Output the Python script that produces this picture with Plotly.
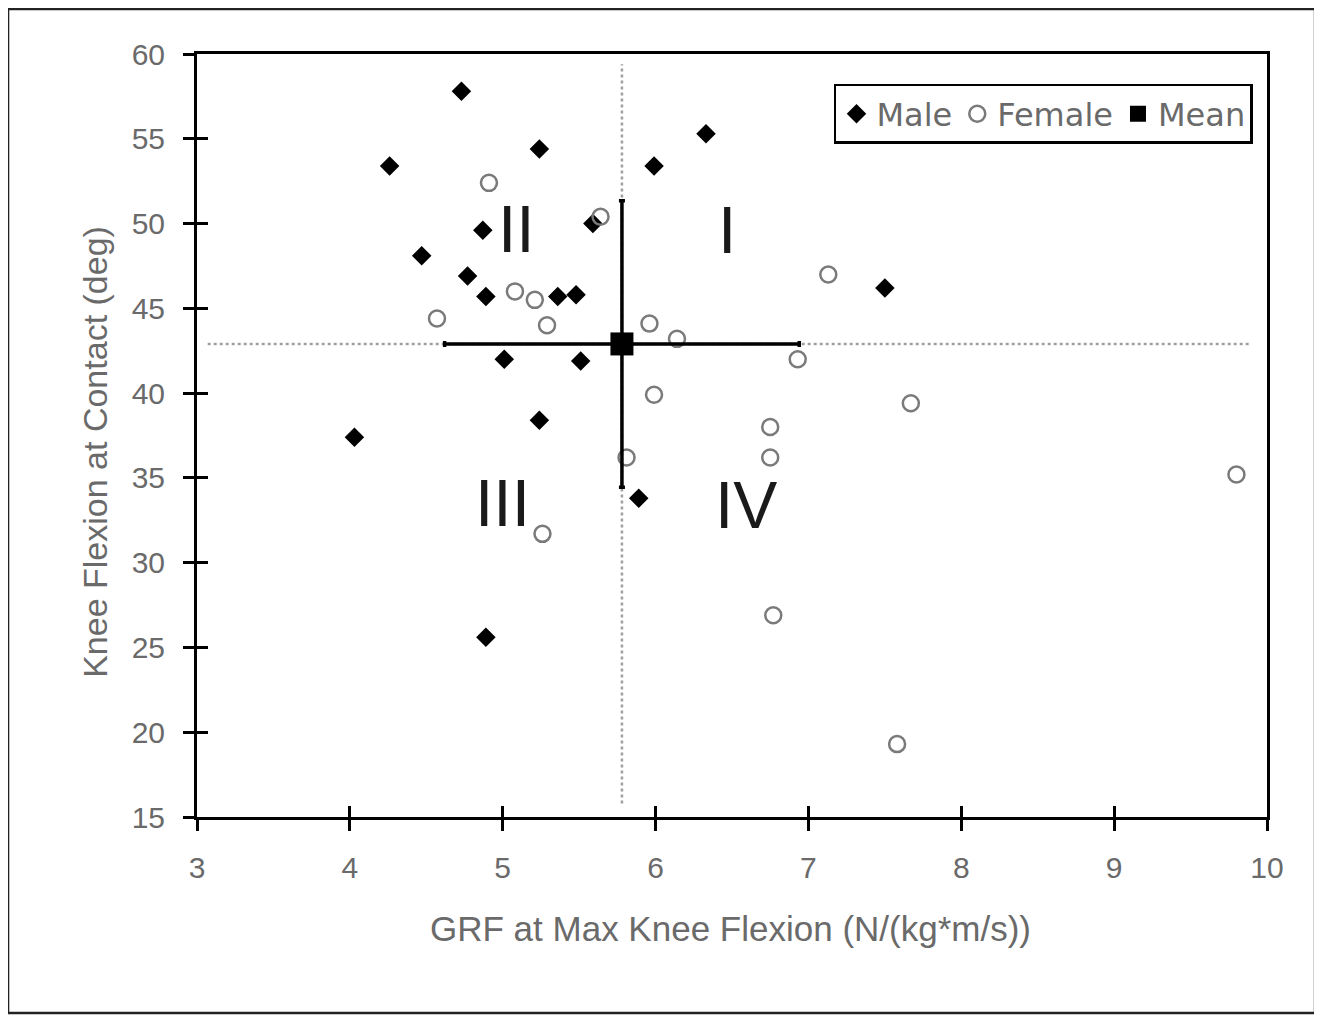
import plotly.graph_objects as go

# ---- data ----
male_x = [4.73, 4.26, 5.24, 6.33, 5.99, 4.87, 5.59, 4.47, 4.77, 4.89, 5.36, 5.48, 5.01, 5.51, 7.50, 4.03, 5.24, 5.89, 4.89]
male_y = [57.8, 53.4, 54.4, 55.3, 53.4, 49.6, 50.0, 48.1, 46.9, 45.7, 45.7, 45.8, 42.0, 41.9, 46.2, 37.4, 38.4, 33.8, 25.6]

female_x = [4.91, 5.64, 5.08, 5.21, 4.57, 5.29, 5.96, 6.14, 6.93, 7.13, 5.99, 7.67, 6.75, 6.75, 5.81, 9.80, 5.26, 6.77, 7.58]
female_y = [52.4, 50.4, 46.0, 45.5, 44.4, 44.0, 44.1, 43.2, 42.0, 47.0, 39.9, 39.4, 38.0, 36.2, 36.2, 35.2, 31.7, 26.9, 19.3]

mean_x = [5.78]
mean_y = [42.9]
sd_x = [1.16]
sd_y = [8.45]

guide_x_extent = [3.07, 9.88]
guide_y_extent = [15.8, 59.4]

quadrant_labels = ["II", "I", "III", "IV"]
quadrant_x = [5.09, 6.47, 5.0, 6.59]
quadrant_y = [49.7, 49.6, 33.5, 33.4]

x_ticks = [3, 4, 5, 6, 7, 8, 9, 10]
y_ticks = [15, 20, 25, 30, 35, 40, 45, 50, 55, 60]

FONT = "Liberation Sans, Arial, sans-serif"
LEG_FONT = "DejaVu Sans, Verdana, sans-serif"
GRAY = "#6a6a6a"

fig = go.Figure()

# dotted guide lines through the mean
fig.add_trace(go.Scatter(x=guide_x_extent, y=[mean_y[0]] * 2, mode="lines",
                         line=dict(color="#a0a0a0", width=2.5, dash="dot"),
                         showlegend=False, hoverinfo="skip"))
fig.add_trace(go.Scatter(x=[mean_x[0]] * 2, y=guide_y_extent, mode="lines",
                         line=dict(color="#a0a0a0", width=2.5, dash="dot"),
                         showlegend=False, hoverinfo="skip"))

fig.add_trace(go.Scatter(x=male_x, y=male_y, mode="markers", name="Male",
                         marker=dict(symbol="diamond", size=15, color="black",
                                     line=dict(width=0))))
fig.add_trace(go.Scatter(x=female_x, y=female_y, mode="markers", name="Female",
                         marker=dict(symbol="circle-open", size=16, color="#7a7a7a",
                                     line=dict(width=2.5, color="#7a7a7a"))))
fig.add_trace(go.Scatter(x=mean_x, y=mean_y, mode="markers", name="Mean",
                         marker=dict(symbol="square", size=23, color="black"),
                         error_x=dict(type="data", array=sd_x, color="black", thickness=3.5, width=3),
                         error_y=dict(type="data", array=sd_y, color="black", thickness=3.5, width=3)))

for t, qx, qy in zip(quadrant_labels, quadrant_x, quadrant_y):
    fig.add_annotation(x=qx, y=qy, text=t, showarrow=False,
                       font=dict(family=FONT, size=66, color="#1a1a1a"),
                       xanchor="center", yanchor="middle")

# axis titles
fig.add_annotation(xref="paper", yref="paper", x=0.499, y=-0.146,
                   text="GRF at Max Knee Flexion (N/(kg*m/s))", showarrow=False,
                   font=dict(family=FONT, size=35, color=GRAY),
                   xanchor="center", yanchor="middle")
fig.add_annotation(xref="paper", yref="paper", x=-0.096, y=0.479,
                   text="Knee Flexion at Contact (deg)", showarrow=False, textangle=-90,
                   font=dict(family=FONT, size=34, color=GRAY),
                   xanchor="center", yanchor="middle")

# outer frame (figure is placed 8px into the page)
fig.add_shape(type="rect", xref="paper", yref="paper",
              x0=-0.1766, x1=1.0449, y0=-0.2569, y1=1.0590,
              line=dict(color="#222222", width=2.5), fillcolor="rgba(0,0,0,0)")

axis_common = dict(showgrid=False, zeroline=False)
fig.update_layout(
    width=1314, height=1008,
    margin=dict(l=189, r=55, t=46, b=199),
    paper_bgcolor="white", plot_bgcolor="white",
    font=dict(family=FONT, color=GRAY),
    xaxis=dict(range=[3, 10], tickvals=x_ticks, ticks="outside", ticklen=11, tickwidth=2.5,
               tickcolor="black", showline=True, linewidth=3, linecolor="black", mirror=True,
               tickfont=dict(family=FONT, size=30, color=GRAY), ticklabelstandoff=11,
               **axis_common),
    yaxis=dict(range=[15, 60], tickvals=y_ticks, ticks="outside", ticklen=11, tickwidth=2.5,
               tickcolor="black", showline=True, linewidth=3, linecolor="black", mirror=True,
               tickfont=dict(family=FONT, size=30, color=GRAY), ticklabelstandoff=12,
               **axis_common),
    xaxis2=dict(overlaying="x", anchor="y", side="bottom", range=[3, 10], tickvals=x_ticks,
                ticks="inside", ticklen=11, tickwidth=2.5, tickcolor="black",
                showticklabels=False, showline=False, **axis_common),
    yaxis2=dict(overlaying="y", anchor="x", side="left", range=[15, 60], tickvals=y_ticks,
                ticks="inside", ticklen=11, tickwidth=2.5, tickcolor="black",
                showticklabels=False, showline=False, **axis_common),
    legend=dict(orientation="h", x=0.9869, xanchor="right", y=0.9607, yanchor="top",
                bgcolor="white", bordercolor="black", borderwidth=2.5,
                font=dict(family=LEG_FONT, size=32, color=GRAY),
                itemsizing="trace", tracegroupgap=0),
)

# a hidden trace so the secondary (inside-tick) axes are rendered
fig.add_trace(go.Scatter(x=[None], y=[None], xaxis="x2", yaxis="y2", showlegend=False,
                         hoverinfo="skip"))

fig.write_html("out.html")
